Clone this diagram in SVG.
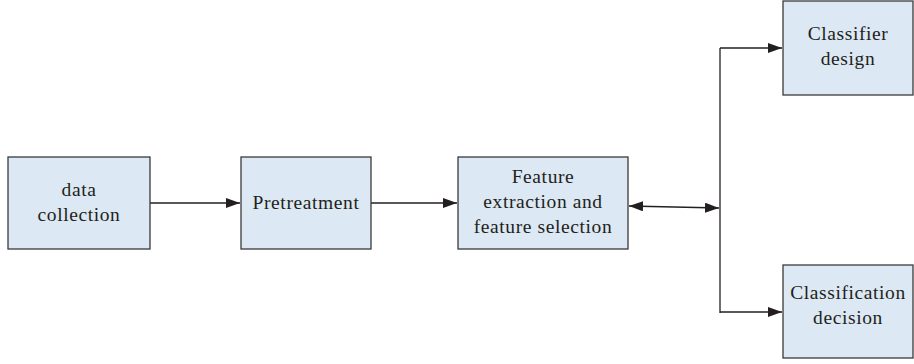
<svg xmlns="http://www.w3.org/2000/svg" width="914" height="364" viewBox="0 0 914 364">
  <style>
    .box { fill: #dce8f3; stroke: #3a3a3a; stroke-width: 1.3; }
    .lbl { font-family: 'Liberation Serif', 'Times New Roman', serif; font-size: 19.5px; letter-spacing: 0.6px; fill: #231f20; text-anchor: middle; }
    .wire { fill: none; stroke: #231f20; stroke-width: 1.3; }
  </style>
  <defs>
    <marker id="arrow" viewBox="0 0 14 10" refX="14" refY="5" markerWidth="14" markerHeight="10" markerUnits="userSpaceOnUse" orient="auto-start-reverse">
      <path d="M0,0 L14,5 L0,10 Z" fill="#231f20"/>
    </marker>
  </defs>

  <!-- flow lines between the stages -->
  <g id="connectors">
    <line class="wire" x1="150" y1="203" x2="240" y2="203" marker-end="url(#arrow)"/>
    <line class="wire" x1="371" y1="203" x2="457" y2="203" marker-end="url(#arrow)"/>
    <line class="wire" x1="629" y1="206" x2="719" y2="208" marker-start="url(#arrow)" marker-end="url(#arrow)"/>
    <line class="wire" x1="720" y1="48" x2="720" y2="313"/>
    <line class="wire" x1="720" y1="48" x2="782" y2="48" marker-end="url(#arrow)"/>
    <line class="wire" x1="720" y1="312" x2="782" y2="312" marker-end="url(#arrow)"/>
  </g>

  <g id="data-collection">
    <rect class="box" x="8" y="157" width="142" height="92"/>
    <text class="lbl" x="79" y="196">data</text>
    <text class="lbl" x="79" y="221">collection</text>
  </g>

  <g id="pretreatment">
    <rect class="box" x="241" y="157" width="130" height="92"/>
    <text class="lbl" x="306" y="209">Pretreatment</text>
  </g>

  <g id="feature-extraction">
    <rect class="box" x="458" y="157" width="170" height="92"/>
    <text class="lbl" x="543" y="183">Feature</text>
    <text class="lbl" x="543" y="208">extraction and</text>
    <text class="lbl" x="543" y="233">feature selection</text>
  </g>

  <g id="classifier-design">
    <rect class="box" x="783" y="1" width="130" height="94"/>
    <text class="lbl" x="848" y="40">Classifier</text>
    <text class="lbl" x="848" y="65">design</text>
  </g>

  <g id="classification-decision">
    <rect class="box" x="783" y="265" width="130" height="93"/>
    <text class="lbl" x="848" y="299">Classification</text>
    <text class="lbl" x="848" y="324">decision</text>
  </g>
</svg>
